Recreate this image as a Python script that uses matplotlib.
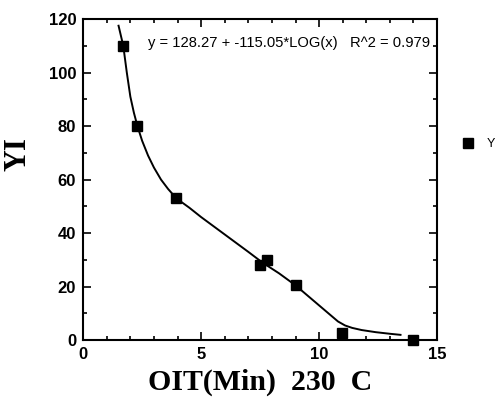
import matplotlib.pyplot as plt
from matplotlib.ticker import MultipleLocator

# measured points (OIT minutes at 230 C vs yellowness index)
oit = [1.7, 2.3, 3.95, 7.5, 7.8, 9.0, 10.95, 14.0]
yi = [110, 80, 53, 28, 30, 20.5, 2.6, 0]

# fitted curve as drawn in the picture
curve_x = [1.5, 1.7, 1.85, 2.0, 2.15, 2.3, 2.5, 2.75, 3.0, 3.3, 3.6, 3.95,
           4.5, 5.0, 6.0, 7.0, 7.6, 8.3, 9.0, 9.6, 10.0, 10.4, 10.8, 11.1,
           11.4, 11.8, 12.4, 13.0, 13.45]
curve_y = [117.5, 110, 100, 91, 85, 80, 74.5, 69, 64.5, 60, 56.5, 53,
           49.5, 46, 39.5, 33, 29, 25, 20.5, 16, 13, 10, 7, 5.5,
           4.6, 3.8, 3.0, 2.4, 2.0]

fig = plt.figure(figsize=(4.95, 4.05), dpi=100)
ax = fig.add_axes([0.168, 0.160, 0.715, 0.793])

ax.plot(curve_x, curve_y, color='black', lw=1.4)
ax.plot(oit, yi, 's', color='black', ms=7.5, label='YI', clip_on=False)

ax.set_xlim(0, 15)
ax.set_ylim(0, 120)
ax.xaxis.set_major_locator(MultipleLocator(5))
ax.xaxis.set_minor_locator(MultipleLocator(1))
ax.yaxis.set_major_locator(MultipleLocator(20))
ax.yaxis.set_minor_locator(MultipleLocator(10))
ax.tick_params(which='both', direction='in', top=True, right=True, width=1.2)
ax.tick_params(which='major', length=6, pad=5)
ax.tick_params(which='minor', length=3)
for lab in ax.get_xticklabels() + ax.get_yticklabels():
    lab.set_fontfamily('Liberation Sans')
    lab.set_fontweight('bold')
    lab.set_fontsize(12)
for s in ax.spines.values():
    s.set_linewidth(1.5)

ax.text(0.184, 0.925, 'y = 128.27 + -115.05*LOG(x)   R^2 = 0.979',
        transform=ax.transAxes, fontsize=10.6, family='Liberation Sans',
        va='center')

ax.set_xlabel('OIT(Min)  230  C', family='Liberation Serif',
              fontweight='bold', fontsize=21.5, labelpad=5)
ax.set_ylabel('YI', family='Liberation Serif', fontweight='bold',
              fontsize=22)
ax.yaxis.set_label_coords(-0.144, 0.58)

# legend sits at the right edge, its label runs off the picture as in the scan
ax.legend(loc='center left', bbox_to_anchor=(1.039, 0.61), frameon=False,
          handlelength=1, handletextpad=1.0,
          prop={'family': 'Liberation Sans', 'size': 9})

fig.savefig('out.png', dpi=100)
